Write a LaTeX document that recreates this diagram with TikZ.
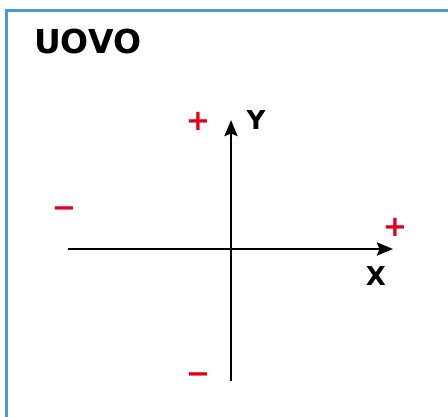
\documentclass[tikz,border=0pt]{standalone}
\usepackage{fontspec}
\setmainfont{DejaVu Sans}
\usetikzlibrary{arrows.meta}
\definecolor{frameblue}{HTML}{4F97D3}
\definecolor{signred}{HTML}{E3001B}
\tikzset{
  axis/.style={line width=2.6pt,-{Stealth[length=16pt,width=13pt,inset=2.5pt]}},
  lbl/.style={font=\fontsize{26}{26}\selectfont\bfseries,inner sep=0pt},
  sign/.style={font=\fontsize{29}{29}\selectfont\bfseries,text=signred,inner sep=0pt}
}
\begin{document}
\begin{tikzpicture}[x=1pt,y=1pt]
\useasboundingbox (0,0) rectangle (448,-416);
\clip (0,0) rectangle (448,-416);
\draw[frameblue,line width=3pt] (6,-10) rectangle (470,-440);
\node[anchor=base west,font=\fontsize{33}{33}\selectfont\bfseries,inner sep=0pt] (title) at (34,-53) {UOVO};
\coordinate (xs) at (68,-249);
\coordinate (xe) at (393,-249);
\coordinate (ys) at (231,-381);
\coordinate (ye) at (231,-120);
\draw[axis] (xs) -- (xe);
\draw[axis] (ys) -- (ye);
\node[lbl] (ylab) at (256,-120) {Y};
\node[lbl] (xlab) at (376,-276) {X};
\node[sign] (pt) at (198,-121) {+};
\node[sign] (ml) at (64,-212) {−};
\node[sign] (pr) at (395,-227) {+};
\node[sign] (mb) at (198,-378) {−};
\end{tikzpicture}
\end{document}
